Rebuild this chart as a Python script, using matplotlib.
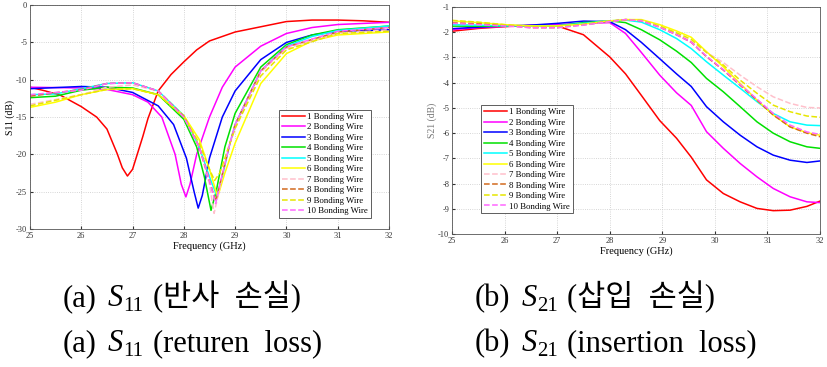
import numpy as np
from matplotlib import pyplot as plt

plt.rcParams['font.family'] = ['Liberation Serif', 'Noto Sans CJK KR']
plt.rcParams['axes.unicode_minus'] = False

labels = ['%d Bonding Wire' % i for i in range(1, 11)]
colors = ['#ff0000', '#ff00ff', '#0000ff', '#00e000', '#00ffff', '#ffff00',
          '#ffc0cb', '#d2691e', '#e6e600', '#ff66ff']
styles = ['-'] * 6 + ['--'] * 4

# S11 (dB) vs frequency (GHz)
f11_1 = [25, 25.3, 25.6, 26, 26.3, 26.5, 26.7, 26.8, 26.9, 27.0, 27.1, 27.2, 27.3, 27.5, 27.75, 28, 28.25, 28.5, 29, 29.5, 30, 30.5, 31, 31.5, 32]
s11_1 = [-11.0, -11.5, -12.1, -13.6, -15.0, -16.6, -19.9, -21.8, -22.9, -22.0, -19.8, -17.6, -15.2, -11.5, -9.3, -7.6, -6.0, -4.8, -3.6, -2.9, -2.2, -2.0, -2.0, -2.1, -2.3]
f11_2 = [25, 26, 26.5, 27, 27.3, 27.57, 27.83, 27.95, 28.04, 28.12, 28.25, 28.5, 28.75, 29, 29.5, 30, 30.5, 31, 32]
s11_2 = [-11.0, -11.1, -11.3, -12.0, -13.0, -15.0, -20.0, -24.0, -25.7, -24.0, -20.0, -15.0, -11.0, -8.3, -5.5, -3.8, -3.0, -2.6, -2.3]
f11_3 = [25, 26, 26.5, 27, 27.5, 27.8, 28.05, 28.2, 28.28, 28.36, 28.5, 28.75, 29, 29.5, 30, 30.5, 31, 32]
s11_3 = [-11.2, -10.9, -11.0, -11.7, -13.5, -16.0, -20.5, -25.0, -27.2, -25.5, -20.5, -15.0, -11.5, -7.3, -5.0, -4.0, -3.5, -3.3]
f11_4 = [25, 25.5, 26, 26.5, 27, 27.5, 28, 28.25, 28.4, 28.53, 28.63, 28.8, 29, 29.5, 30, 30.5, 31, 32]
s11_4 = [-12.4, -12.2, -11.4, -11.0, -11.1, -12.0, -15.3, -19.0, -23.0, -27.5, -25.0, -19.0, -14.5, -8.3, -5.3, -4.0, -3.3, -2.8]
f11_5 = [25, 25.5, 26, 26.5, 27, 27.5, 28, 28.3, 28.5, 28.64, 28.75, 28.9, 29, 29.5, 30, 30.5, 31, 32]
s11_5 = [-12.0, -11.9, -11.2, -10.5, -10.4, -11.5, -14.8, -19.0, -23.0, -25.5, -23.0, -18.5, -16.0, -8.8, -5.5, -4.2, -3.4, -2.8]
f11_6 = [25, 25.5, 26, 26.5, 27, 27.5, 28, 28.3, 28.5, 28.66, 28.8, 29, 29.5, 30, 30.5, 31, 32]
s11_6 = [-13.7, -13.0, -12.0, -11.3, -11.2, -12.0, -14.8, -18.0, -22.0, -25.7, -22.5, -18.5, -10.5, -6.5, -4.8, -4.0, -3.6]
f11_7 = [25, 26, 26.5, 27, 27.5, 28, 28.3, 28.5, 28.59, 28.7, 28.85, 29, 29.5, 30, 31, 32]
s11_7 = [-13.3, -12.0, -11.0, -10.7, -11.5, -15.0, -19.0, -24.0, -27.9, -24.5, -19.5, -16.5, -9.0, -5.8, -3.8, -3.3]
f11_8 = [25, 26, 26.5, 27, 27.5, 28, 28.3, 28.5, 28.62, 28.72, 28.9, 29, 29.5, 30, 31, 32]
s11_8 = [-12.2, -11.3, -10.5, -10.4, -11.5, -14.9, -19.0, -23.5, -26.3, -23.5, -18.5, -16.0, -8.8, -5.6, -3.6, -3.0]
f11_9 = [25, 26, 26.5, 27, 27.5, 28, 28.3, 28.5, 28.6, 28.7, 28.9, 29, 29.5, 30, 31, 32]
s11_9 = [-13.5, -12.0, -11.3, -11.2, -12.0, -15.0, -18.5, -22.0, -23.5, -22.5, -18.5, -16.5, -9.5, -6.0, -3.8, -3.5]
f11_10 = [25, 26, 26.5, 27, 27.5, 28, 28.3, 28.5, 28.62, 28.72, 28.9, 29, 29.5, 30, 31, 32]
s11_10 = [-12.0, -11.4, -10.5, -10.4, -11.5, -15.0, -19.0, -23.5, -26.6, -23.5, -18.5, -16.0, -8.8, -5.6, -3.5, -3.0]

# S21 (dB) vs frequency (GHz)
f21 = [25, 25.5, 26, 26.5, 27, 27.5, 28, 28.3, 28.6, 28.95, 29.27, 29.55, 29.84, 30.16, 30.48, 30.8, 31.11, 31.43, 31.75, 32]
s21_1 = [-1.96, -1.85, -1.78, -1.73, -1.75, -2.1, -2.98, -3.65, -4.5, -5.5, -6.2, -6.95, -7.85, -8.39, -8.72, -8.98, -9.07, -9.05, -8.9, -8.69]
s21_2 = [-1.9, -1.82, -1.77, -1.73, -1.7, -1.65, -1.62, -2.05, -2.8, -3.7, -4.4, -4.9, -5.94, -6.6, -7.2, -7.73, -8.19, -8.52, -8.72, -8.75]
s21_3 = [-1.86, -1.8, -1.75, -1.72, -1.65, -1.56, -1.58, -1.9, -2.4, -3.05, -3.65, -4.15, -4.95, -5.55, -6.08, -6.54, -6.87, -7.07, -7.16, -7.1]
s21_4 = [-1.76, -1.76, -1.76, -1.75, -1.75, -1.62, -1.55, -1.62, -1.9, -2.3, -2.75, -3.2, -3.83, -4.36, -4.95, -5.55, -6.0, -6.34, -6.54, -6.6]
s21_5 = [-1.7, -1.72, -1.75, -1.75, -1.75, -1.65, -1.55, -1.52, -1.6, -1.9, -2.25, -2.65, -3.17, -3.7, -4.22, -4.75, -5.22, -5.55, -5.68, -5.7]
s21_6 = [-1.55, -1.62, -1.7, -1.75, -1.75, -1.68, -1.55, -1.5, -1.5, -1.7, -1.95, -2.2, -2.77, -3.37, -4.03, -4.69, -5.28, -5.75, -5.98, -6.08]
s21_7 = [-1.6, -1.65, -1.72, -1.8, -1.8, -1.7, -1.57, -1.5, -1.52, -1.78, -2.05, -2.35, -2.8, -3.2, -3.7, -4.16, -4.56, -4.82, -4.98, -5.0]
s21_8 = [-1.63, -1.67, -1.73, -1.82, -1.82, -1.7, -1.57, -1.5, -1.55, -1.8, -2.1, -2.4, -2.97, -3.5, -4.1, -4.69, -5.28, -5.75, -6.0, -6.14]
s21_9 = [-1.53, -1.6, -1.7, -1.78, -1.78, -1.7, -1.57, -1.5, -1.52, -1.76, -2.02, -2.28, -2.8, -3.3, -3.9, -4.42, -4.89, -5.15, -5.32, -5.37]
s21_10 = [-1.65, -1.7, -1.75, -1.82, -1.82, -1.72, -1.58, -1.5, -1.55, -1.8, -2.1, -2.4, -2.95, -3.48, -4.07, -4.65, -5.22, -5.68, -5.95, -6.05]

s11_f = [f11_1, f11_2, f11_3, f11_4, f11_5, f11_6, f11_7, f11_8, f11_9, f11_10]
s11_v = [s11_1, s11_2, s11_3, s11_4, s11_5, s11_6, s11_7, s11_8, s11_9, s11_10]
s21_v = [s21_1, s21_2, s21_3, s21_4, s21_5, s21_6, s21_7, s21_8, s21_9, s21_10]

fig = plt.figure(figsize=(8.27, 3.67), dpi=100)
ax1 = fig.add_axes([0.0363, 0.376, 0.434, 0.610])
ax2 = fig.add_axes([0.5466, 0.362, 0.445, 0.619])

for i in range(10):
    ax1.plot(s11_f[i], s11_v[i], color=colors[i], linestyle=styles[i], lw=1.1, label=labels[i])
    ax2.plot(f21, s21_v[i], color=colors[i], linestyle=styles[i], lw=1.1, label=labels[i])

for ax in (ax1, ax2):
    ax.set_xlim(25, 32)
    ax.set_xticks(range(25, 33))
    ax.grid(True, linestyle=':', color='#c8c8c8', lw=0.6)
    ax.tick_params(direction='in', labelsize=6, length=2, colors='#333333', pad=2)
    ax.set_xlabel('Frequency (GHz)', fontsize=7.5, labelpad=1)
    for s in ax.spines.values():
        s.set_color('#555555')
        s.set_linewidth(0.6)

ax1.set_ylim(-30, 0)
ax1.set_yticks(range(-30, 1, 5))
ax1.set_ylabel('S11 (dB)', fontsize=7, labelpad=1)
ax2.set_ylim(-10, -1)
ax2.set_yticks(range(-10, 0))
ax2.set_ylabel('S21 (dB)', fontsize=7, labelpad=1, color='#777777')

leg_kw = dict(fontsize=6.3, labelspacing=0.27, handlelength=2.6, handletextpad=0.3,
              borderpad=0.3, fancybox=False, edgecolor='#444444', framealpha=1)
l1 = ax1.legend(loc='lower right', bbox_to_anchor=(0.961, 0.031), **leg_kw)
l2 = ax2.legend(loc='upper left', bbox_to_anchor=(0.068, 0.586), **leg_kw)
for l in (l1, l2):
    l.get_frame().set_linewidth(0.6)

# captions: pieces laid out one after another on a common baseline
renderer = fig.canvas.get_renderer()
W, H = 827.0, 367.0
fs = 22


def caption(x_px, base_px, sub, tail):
    x = x_px / W
    y = 1 - base_px / H
    pieces = [('(a)' if sub == '11' else '(b)', {}, 0, 11),
              ('S', {'style': 'italic'}, 0, 0),
              (sub, {'fontsize': fs * 0.68}, -5, 10),
              (tail, {}, 0, 0)]
    for s, kw, dy, gap in pieces:
        t = fig.text(x, y + dy / H, s, va='baseline', ha='left',
                     **{'fontsize': fs, **kw})
        x += (t.get_window_extent(renderer).width + gap) / W


caption(63, 306, '11', '(반사  손실)')
caption(63, 351, '11', '(returen  loss)')
caption(475, 306, '21', '(삽입  손실)')
caption(475, 351, '21', '(insertion  loss)')

fig.savefig('out.png', dpi=100)
